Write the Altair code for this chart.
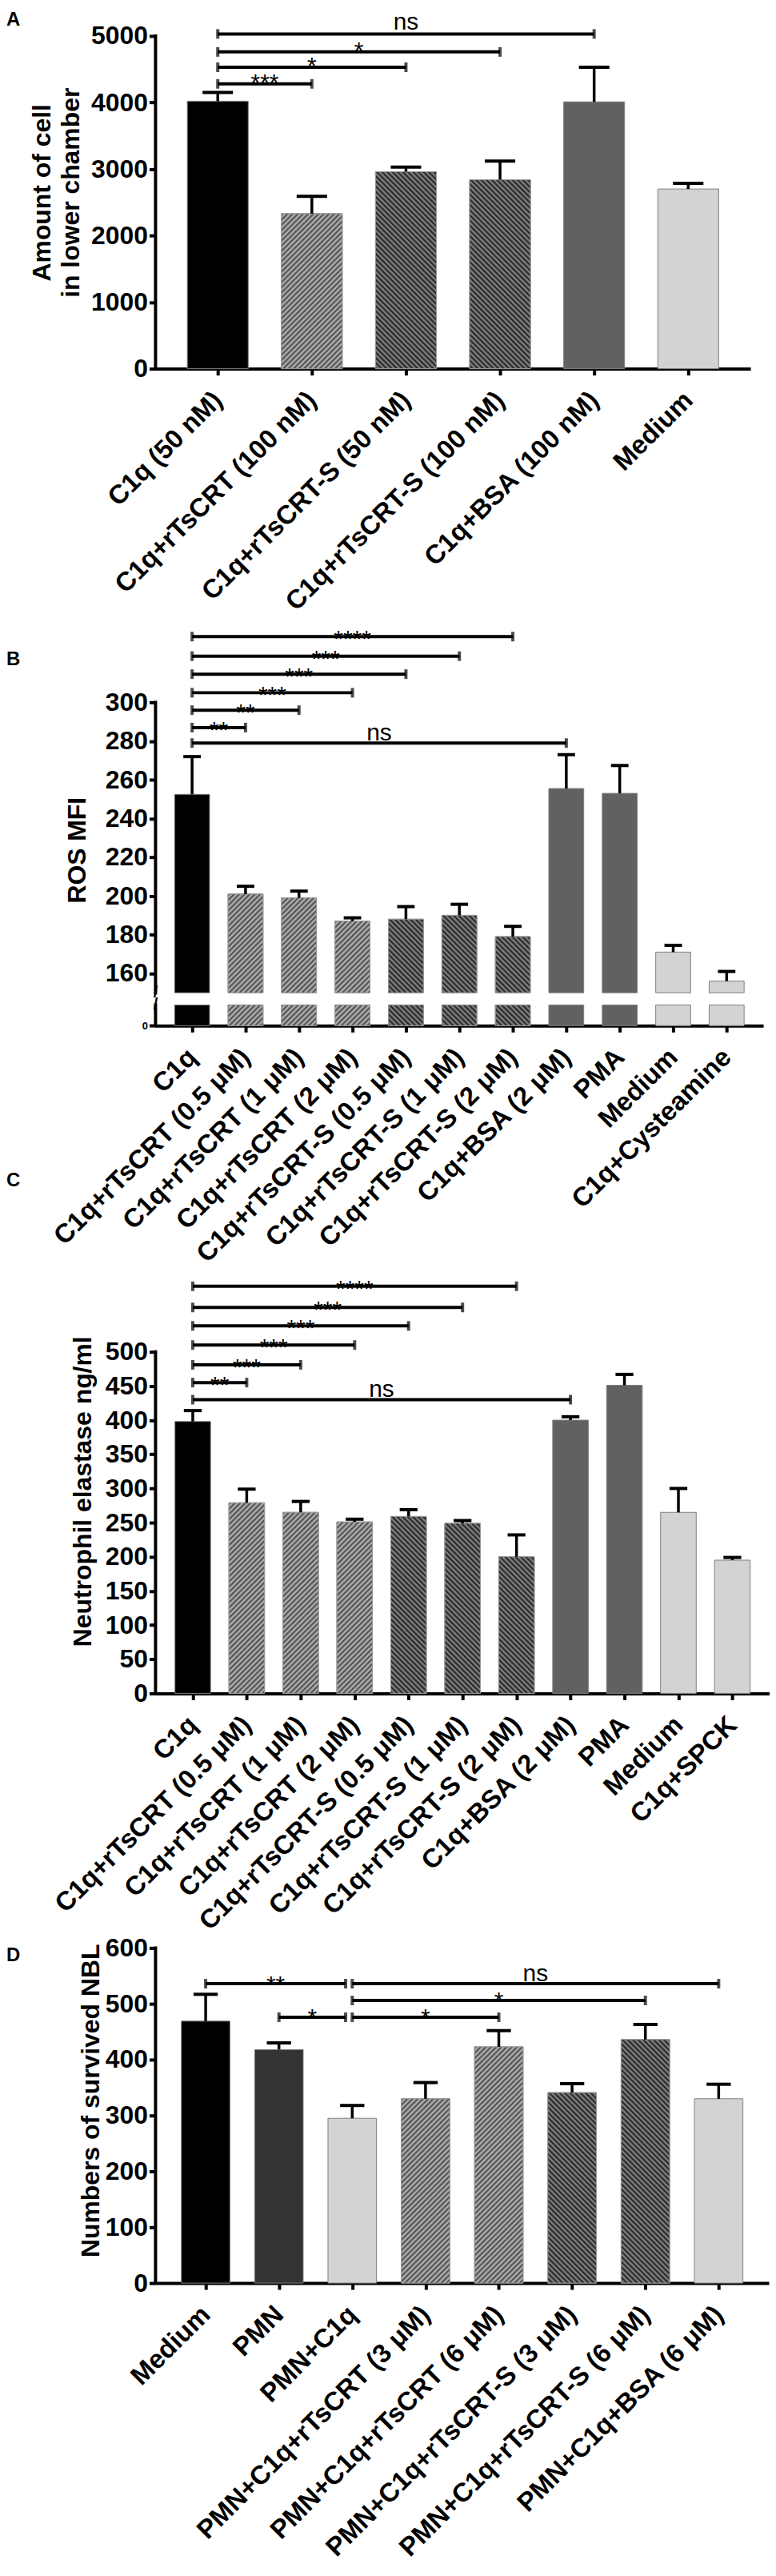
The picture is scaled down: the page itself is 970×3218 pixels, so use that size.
import json
import urllib.parse
import altair as alt
import pandas as pd

FONT = "Liberation Sans"

# ---------------- Panel A ----------------
catsA = ["C1q (50 nM)", "C1q+rTsCRT (100 nM)", "C1q+rTsCRT-S (50 nM)",
         "C1q+rTsCRT-S (100 nM)", "C1q+BSA (100 nM)", "Medium"]
meanA = [4020, 2330, 2960, 2840, 4010, 2700]
semA = [130, 260, 70, 280, 520, 85]
grpA = ["c1q", "crt", "crts", "crts", "bsa", "med"]
brA_from = [0, 0, 0, 0]
brA_to = [1, 2, 3, 4]
brA_y = [4280, 4530, 4760, 5030]
brA_lab = ["***", "*", "*", "ns"]

# ---------------- Panel B ----------------
catsB = ["C1q", "C1q+rTsCRT (0.5 μM)", "C1q+rTsCRT (1 μM)", "C1q+rTsCRT (2 μM)",
         "C1q+rTsCRT-S (0.5 μM)", "C1q+rTsCRT-S (1 μM)", "C1q+rTsCRT-S (2 μM)",
         "C1q+BSA (2 μM)", "PMA", "Medium", "C1q+Cysteamine"]
meanB = [252.5, 201, 199, 187, 188, 190, 179, 255.5, 253, 171, 156]
semB = [19.5, 4, 3.5, 1.7, 6.5, 5.7, 5.3, 17.5, 14.4, 3.5, 5]
grpB = ["c1q", "crt", "crt", "crt", "crts", "crts", "crts", "bsa", "bsa", "med", "med"]
brB_from = [0, 0, 0, 0, 0, 0, 0]
brB_to = [7, 1, 2, 3, 4, 5, 6]
brB_y = [279, 287, 296, 305, 314.6, 323.9, 334]
brB_lab = ["ns", "**", "**", "***", "***", "***", "****"]

# ---------------- Panel C ----------------
catsC = ["C1q", "C1q+rTsCRT (0.5 μM)", "C1q+rTsCRT (1 μM)", "C1q+rTsCRT (2 μM)",
         "C1q+rTsCRT-S (0.5 μM)", "C1q+rTsCRT-S (1 μM)", "C1q+rTsCRT-S (2 μM)",
         "C1q+BSA (2 μM)", "PMA", "Medium", "C1q+SPCK"]
meanC = [398, 279, 265, 251, 259, 249, 200, 400, 451, 265, 195]
semC = [16, 20, 16, 4, 10, 4, 32, 5, 16, 35, 4]
grpC = ["c1q", "crt", "crt", "crt", "crts", "crts", "crts", "bsa", "bsa", "med", "med"]
brC_from = [0, 0, 0, 0, 0, 0, 0]
brC_to = [7, 1, 2, 3, 4, 5, 6]
brC_y = [430, 455, 481, 510, 538, 565, 596]
brC_lab = ["ns", "**", "***", "***", "***", "***", "****"]

# ---------------- Panel D ----------------
catsD = ["Medium", "PMN", "PMN+C1q", "PMN+C1q+rTsCRT (3 μM)", "PMN+C1q+rTsCRT (6 μM)",
         "PMN+C1q+rTsCRT-S (3 μM)", "PMN+C1q+rTsCRT-S (6 μM)", "PMN+C1q+BSA (6 μM)"]
meanD = [469, 418, 295, 330, 423, 341, 436, 330]
semD = [48, 12, 23, 29, 29, 16, 27, 26]
grpD = ["c1q", "pmn", "med", "crt", "crt", "crts", "crts", "med"]
brD_from = [0, 2, 2, 1, 2]
brD_to = [2, 7, 6, 2, 4]
brD_y = [536, 536, 506, 476, 476]
brD_lab = ["**", "ns", "*", "*", "*"]

GROUPS = ["c1q", "crt", "crts", "bsa", "pmn", "med"]
COLORS = ["#000000", "#8e8e8e", "#5a5a5a", "#616161", "#333333", "#d3d3d3"]


def hatch(base, stripe, angle, period=4.6, sw=2.0):
    svg = ("<svg xmlns='http://www.w3.org/2000/svg' width='100%' height='100%'>"
           f"<defs><pattern id='h' width='{period}' height='{period}' patternUnits='userSpaceOnUse' "
           f"patternTransform='rotate({angle})'>"
           f"<rect width='{period}' height='{period}' fill='{base}'/>"
           f"<rect width='{sw}' height='{period}' fill='{stripe}'/></pattern></defs>"
           "<rect width='100%' height='100%' fill='url(#h)'/></svg>")
    return "data:image/svg+xml;charset=utf-8," + urllib.parse.quote(svg)


URI_CRT = hatch("#a9a9a9", "#505050", 45)
URI_CRTS = hatch("#7a7a7a", "#262626", -45)


def panel(cats, mean, sem, grp, bfrom, bto, by, blab, cfg):
    n = len(cats)
    hw = cfg["hw"]
    rows = []
    for i, (m, g) in enumerate(zip(mean, grp)):
        if "brk" in cfg:
            segs = [(cfg["brk"][1], m), (0, cfg["brk"][0])]
        else:
            segs = [(0, m)]
        for b, t in segs:
            rows.append(dict(i=i, x0=i - hw, x1=i + hw, b=b, t=t, g=g))
    dfb = pd.DataFrame(rows)
    dfe = pd.DataFrame(dict(i=list(range(n)), mean=mean,
                            hi=[m + s for m, s in zip(mean, sem)],
                            c0=[i - hw / 2 for i in range(n)],
                            c1=[i + hw / 2 for i in range(n)]))
    brs = []
    for a, b, y, lab in zip(bfrom, bto, by, blab):
        short = any(a2 == b and y2 == y for a2, y2 in zip(bfrom, by))
        bb = b - 0.09 if short else b
        brs.append(dict(a=a, b=bb, y=y, lab=lab, m=(a + bb) / 2))
    dfr = pd.DataFrame(brs)
    dfax = pd.DataFrame(dict(s=[s for s, e in cfg["axseg"]], e=[e for s, e in cfg["axseg"]]))

    xs = alt.Scale(domain=[-cfg["pad"], n - 1 + cfg["pad"]], nice=False, zero=False)
    skw = dict(domain=cfg["ydom"], nice=False, zero=False)
    if "yrange" in cfg:
        skw["range"] = cfg["yrange"]
    ys = alt.Scale(**skw)

    label_expr = json.dumps(cats, ensure_ascii=False) + "[datum.value]"
    xaxis = alt.Axis(values=list(range(n)), labelExpr=label_expr, labelAngle=315,
                     labelAlign="right", labelBaseline="middle", labelFont=FONT,
                     labelFontSize=33, labelFontWeight="bold", labelColor="black",
                     labelPadding=26, labelOverlap=False, labelFlush=False, labelLimit=0,
                     tickSize=8, tickWidth=4, tickColor="black",
                     domainColor="black", domainWidth=4, grid=False, title="")
    yaxis = alt.Axis(values=cfg["yticks"], format="d", grid=False, domain=False, tickSize=8,
                     tickWidth=4, tickColor="black", labelFont=FONT,
                     labelFontSize=cfg.get("ylfs", 32), labelFontWeight="bold",
                     labelColor="black", labelPadding=2, labelOverlap=False,
                     labelFlush=False, title=cfg["title"], titleFont=FONT,
                     titleFontSize=32, titleFontWeight="bold", titleColor="black",
                     titleX=cfg["tx"], titleY=cfg["ty"], titleAngle=270,
                     titleAlign="center", titleBaseline="middle", titleLineHeight=36)

    def X(f):
        return alt.X(f, scale=xs, axis=xaxis)

    def Y(f):
        return alt.Y(f, scale=ys, axis=yaxis)

    bars = alt.Chart(dfb).mark_bar(stroke="#808080", strokeWidth=1).encode(
        x=X("x0:Q"), x2="x1:Q", y=Y("t:Q"), y2="b:Q",
        color=alt.Color("g:N", scale=alt.Scale(domain=GROUPS, range=COLORS), legend=None))

    def img(g, uri):
        return alt.Chart(dfb).transform_filter(f"datum.g == '{g}'").mark_image(aspect=False).encode(
            x=X("x0:Q"), x2="x1:Q", y=Y("t:Q"), y2="b:Q", url=alt.value(uri))

    outline = alt.Chart(dfb).transform_filter("datum.g == 'crt' || datum.g == 'crts'").mark_bar(
        fillOpacity=0, stroke="#9a9a9a", strokeWidth=1).encode(
        x=X("x0:Q"), x2="x1:Q", y=Y("t:Q"), y2="b:Q")

    err_v = alt.Chart(dfe).mark_rule(color="black", strokeWidth=3.5).encode(
        x=X("i:Q"), y=Y("mean:Q"), y2="hi:Q")
    err_c = alt.Chart(dfe).mark_rule(color="black", strokeWidth=4).encode(
        x=X("c0:Q"), x2="c1:Q", y=Y("hi:Q"))

    br_line = alt.Chart(dfr).mark_rule(color="black", strokeWidth=4).encode(
        x=X("a:Q"), x2="b:Q", y=Y("y:Q"))
    br_ta = alt.Chart(dfr).mark_tick(orient="vertical", size=12, thickness=4, color="black").encode(
        x=X("a:Q"), y=Y("y:Q"))
    br_tb = alt.Chart(dfr).mark_tick(orient="vertical", size=12, thickness=4, color="black").encode(
        x=X("b:Q"), y=Y("y:Q"))
    stars = alt.Chart(dfr).transform_filter("datum.lab != 'ns'").mark_text(
        font=FONT, fontSize=30, baseline="alphabetic", dy=cfg["sdy"], color="black").encode(
        x=X("m:Q"), y=Y("y:Q"), text="lab:N")
    ns = alt.Chart(dfr).transform_filter("datum.lab == 'ns'").mark_text(
        font=FONT, fontSize=30, baseline="alphabetic", dy=cfg["ndy"], color="black").encode(
        x=X("m:Q"), y=Y("y:Q"), text="lab:N")

    yline = alt.Chart(dfax).mark_rule(color="black", strokeWidth=4, strokeCap="square").encode(
        x=alt.value(0), y=Y("s:Q"), y2="e:Q")

    letter = alt.Chart(pd.DataFrame(dict(t=[cfg["letter"]]))).mark_text(
        font=FONT, fontSize=24, fontWeight="bold", align="left", baseline="top",
        color="black").encode(x=alt.value(-187), y=alt.value(cfg["ly"]), text="t:N")

    layers = [bars, img("crt", URI_CRT), img("crts", URI_CRTS), outline,
              err_v, err_c, br_line, br_ta, br_tb, stars, ns, yline, letter]

    if "brk" in cfg:
        brk = alt.Chart(pd.DataFrame(dict(v=list(cfg["brk"])))).mark_text(
            text="/", font=FONT, fontSize=20, fontWeight="bold", align="center",
            baseline="middle", color="black").encode(x=alt.value(0), y=Y("v:Q"))
        layers.append(brk)

    return alt.layer(*layers).properties(width=cfg["W"], height=cfg["H"])


pA = panel(catsA, meanA, semA, grpA, brA_from, brA_to, brA_y, brA_lab, dict(
    W=746, H=417, pad=0.6615, hw=0.3235, ydom=[0, 5000],
    yticks=[0, 1000, 2000, 3000, 4000, 5000], axseg=[(0, 5000)],
    title=["Amount of cell", "in lower chamber"], tx=-142, ty=196,
    letter="A", ly=-32, sdy=8.5, ndy=-5))

pB = panel(catsB, meanB, semB, grpB, brB_from, brB_to, brB_y, brB_lab, dict(
    W=762, H=513.3, pad=0.684, hw=0.327, ydom=[0, 10, 150, 344.6],
    yrange=[513.3, 487.3, 472, 0], brk=(10, 150),
    yticks=[0, 160, 180, 200, 220, 240, 260, 280, 300], axseg=[(0, 10), (150, 300)],
    ylfs={"condition": {"test": "datum.value == 0", "value": 13}, "value": 32},
    title="ROS MFI", tx=-98, ty=293, letter="B", ly=43, sdy=13, ndy=-3))

pC = panel(catsC, meanC, semC, grpC, brC_from, brC_to, brC_y, brC_lab, dict(
    W=770, H=526, pad=0.69, hw=0.33, ydom=[0, 614.5],
    yticks=list(range(0, 501, 50)), axseg=[(0, 500)],
    title="Neutrophil elastase ng/ml", tx=-91, ty=272.6,
    letter="C", ly=-128, sdy=13, ndy=-3))

pD = panel(catsD, meanD, semD, grpD, brD_from, brD_to, brD_y, brD_lab, dict(
    W=769, H=429, pad=0.684, hw=0.331, ydom=[0, 612.9],
    yticks=list(range(0, 601, 100)), axseg=[(0, 600)],
    title="Numbers of survived NBL", tx=-81, ty=200,
    letter="D", ly=7, sdy=10.5, ndy=-3))

chart = alt.vconcat(pA, pB, pC, pD, spacing=310, bounds="flush").properties(
    padding={"left": 0, "top": 0, "right": 0, "bottom": 0}
).configure_view(strokeWidth=0)

chart.save("out.html", embed_options={"renderer": "svg", "actions": False})
